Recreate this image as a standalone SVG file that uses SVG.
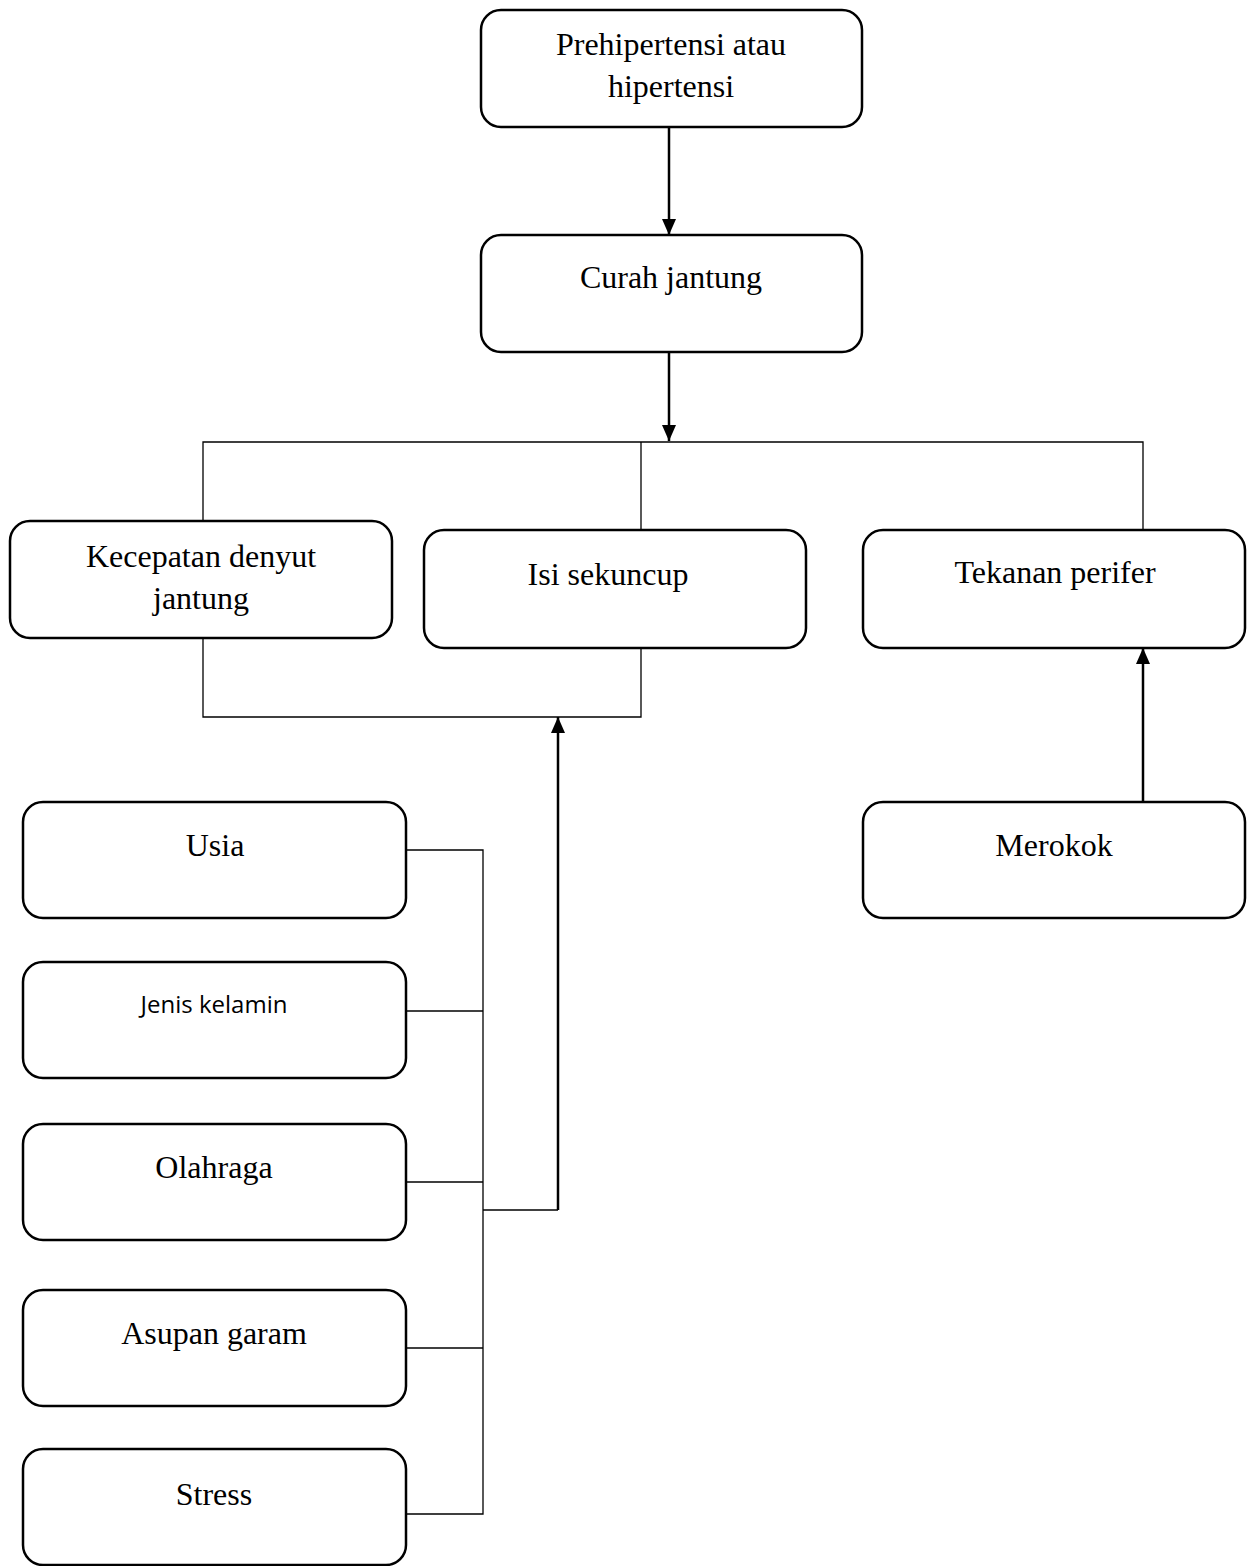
<svg xmlns="http://www.w3.org/2000/svg" width="1249" height="1566" viewBox="0 0 1249 1566">
<defs>
<marker id="ah" viewBox="0 0 16 14" refX="16" refY="7" markerWidth="16" markerHeight="14" markerUnits="userSpaceOnUse" orient="auto">
<path d="M0,0 L16,7 L0,14 Z" fill="#000"/>
</marker>
</defs>
<style>
.box{fill:#fff;stroke:#000;stroke-width:2.5}
.t{font-family:"Liberation Serif","Times New Roman",serif;font-size:32px;fill:#000;text-anchor:middle}
.s{font-family:"Open Sans","Liberation Sans",sans-serif;font-size:24px;fill:#000;text-anchor:middle}
.thin{fill:none;stroke:#000;stroke-width:1.3}
.arr{fill:none;stroke:#000;stroke-width:2.5;marker-end:url(#ah)}
</style>
<rect width="1249" height="1566" fill="#fff"/>
<g id="connectors">
<line class="arr" x1="669" y1="127" x2="669" y2="235"/>
<line class="arr" x1="669" y1="352" x2="669" y2="441"/>
<polyline class="thin" points="203,521 203,442 1143,442 1143,530"/>
<line class="thin" x1="641" y1="442" x2="641" y2="530"/>
<polyline class="thin" points="203,638 203,717 641,717 641,648"/>
<line class="arr" x1="558" y1="1210" x2="558" y2="717"/>
<line class="thin" x1="483" y1="1210" x2="558" y2="1210"/>
<line class="arr" x1="1143" y1="802" x2="1143" y2="648"/>
<polyline class="thin" points="406,850 483,850 483,1514 406,1514"/>
<line class="thin" x1="406" y1="1011" x2="483" y2="1011"/>
<line class="thin" x1="406" y1="1182" x2="483" y2="1182"/>
<line class="thin" x1="406" y1="1348" x2="483" y2="1348"/>
</g>
<g id="n-prehipertensi">
<rect class="box" x="481" y="10" width="381" height="117" rx="20"/>
<text class="t" x="671" y="55">Prehipertensi atau</text>
<text class="t" x="671" y="97">hipertensi</text>
</g>
<g id="n-curah">
<rect class="box" x="481" y="235" width="381" height="117" rx="20"/>
<text class="t" x="671" y="288">Curah jantung</text>
</g>
<g id="n-kecepatan">
<rect class="box" x="10" y="521" width="382" height="117" rx="20"/>
<text class="t" x="201" y="567">Kecepatan denyut</text>
<text class="t" x="201" y="609">jantung</text>
</g>
<g id="n-isi">
<rect class="box" x="424" y="530" width="382" height="118" rx="20"/>
<text class="t" x="608" y="585">Isi sekuncup</text>
</g>
<g id="n-tekanan">
<rect class="box" x="863" y="530" width="382" height="118" rx="20"/>
<text class="t" x="1055" y="583">Tekanan perifer</text>
</g>
<g id="n-merokok">
<rect class="box" x="863" y="802" width="382" height="116" rx="20"/>
<text class="t" x="1054" y="856">Merokok</text>
</g>
<g id="n-usia">
<rect class="box" x="23" y="802" width="383" height="116" rx="20"/>
<text class="t" x="215" y="856">Usia</text>
</g>
<g id="n-jenis">
<rect class="box" x="23" y="962" width="383" height="116" rx="20"/>
<text class="s" x="214" y="1013">Jenis kelamin</text>
</g>
<g id="n-olahraga">
<rect class="box" x="23" y="1124" width="383" height="116" rx="20"/>
<text class="t" x="214" y="1178">Olahraga</text>
</g>
<g id="n-asupan">
<rect class="box" x="23" y="1290" width="383" height="116" rx="20"/>
<text class="t" x="214" y="1344">Asupan garam</text>
</g>
<g id="n-stress">
<rect class="box" x="23" y="1449" width="383" height="116" rx="20"/>
<text class="t" x="214" y="1505">Stress</text>
</g>
</svg>
